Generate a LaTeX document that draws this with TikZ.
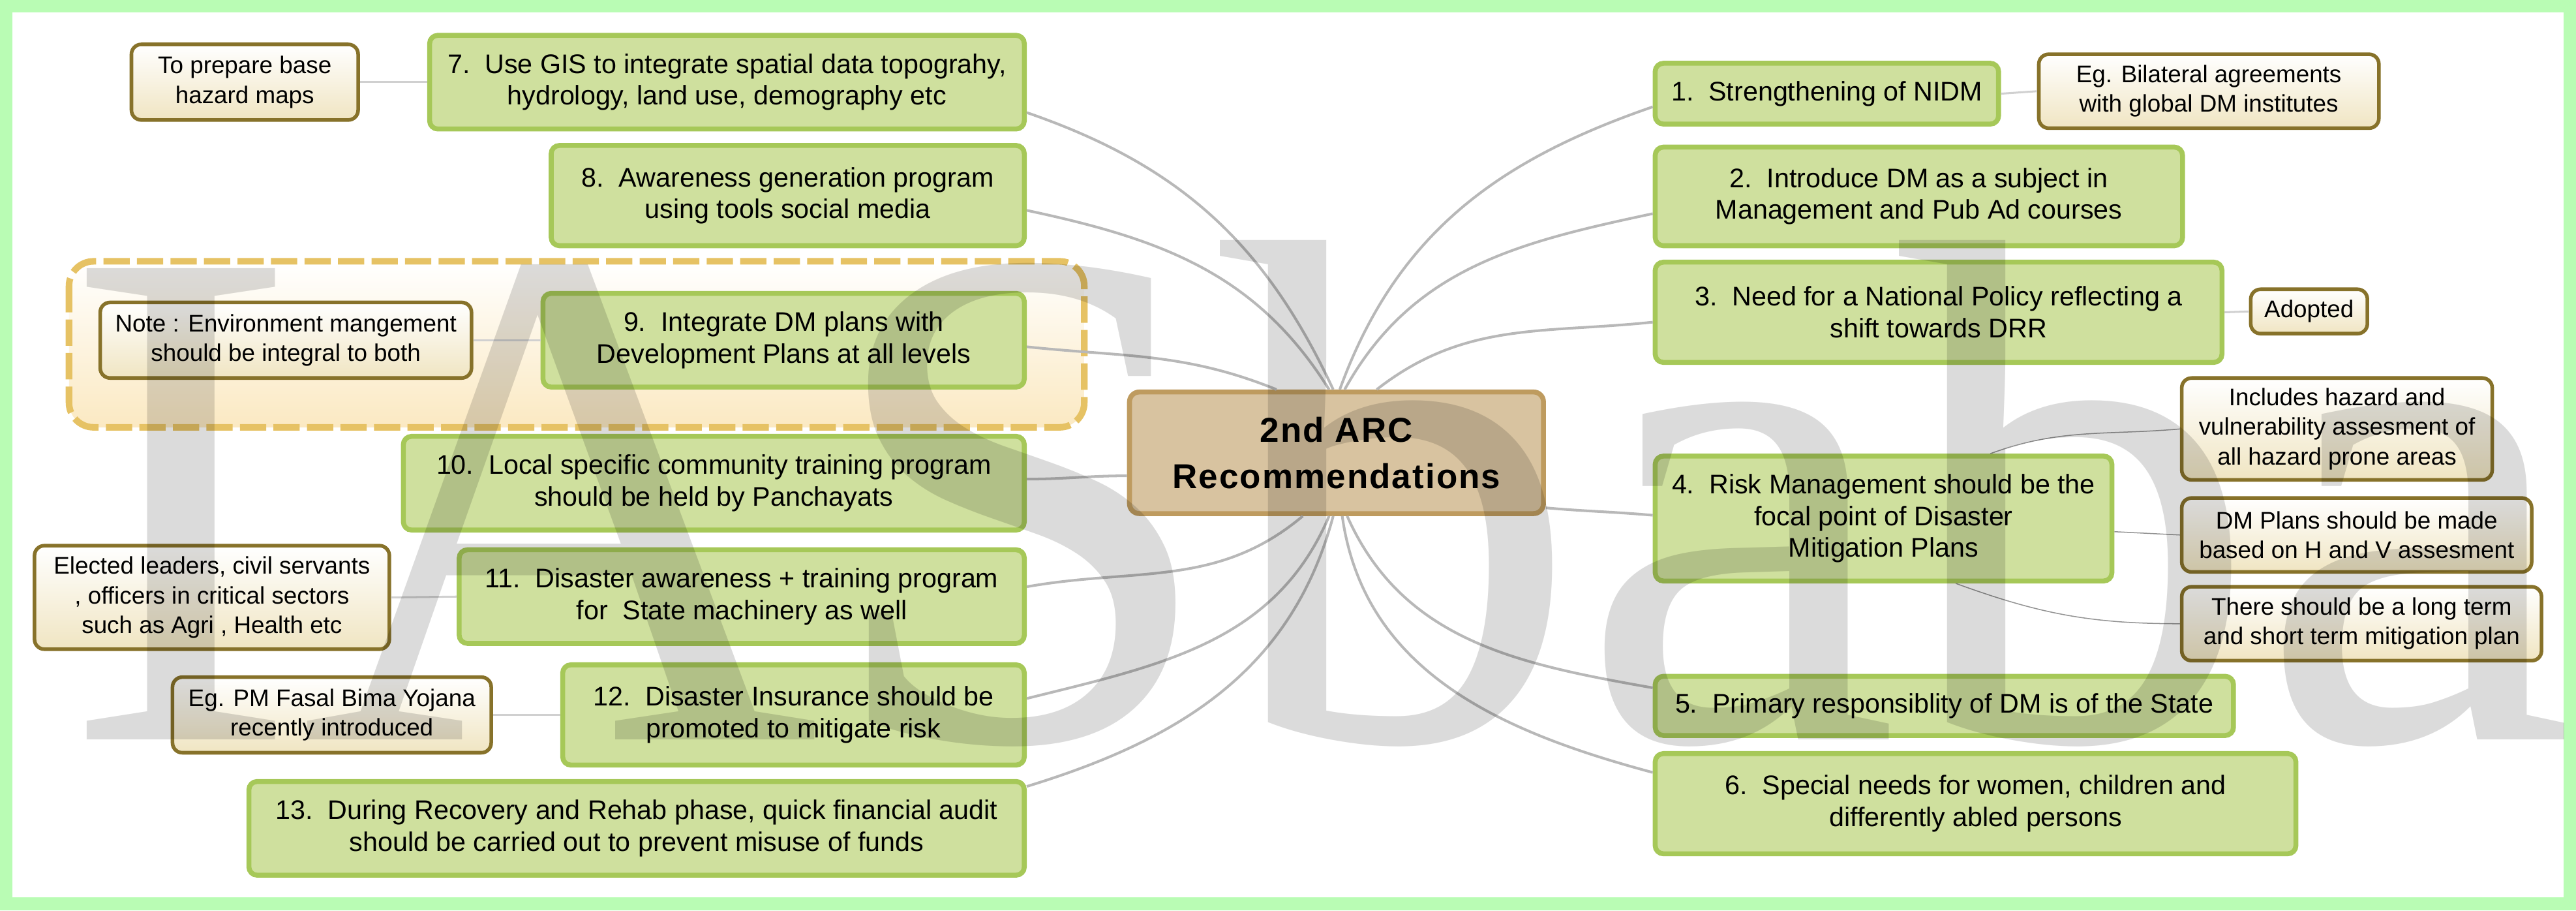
\documentclass[tikz,border=0pt]{standalone}
\usepackage{fontspec}
\setmainfont{Liberation Sans}
\newfontfamily\wmfont{Liberation Serif}
\newfontfamily\rootfont[LetterSpace=4]{Liberation Sans}
\usetikzlibrary{positioning, calc}

\definecolor{page green}{RGB}{185,252,180}
\definecolor{leaf fill}{RGB}{207,224,158}
\definecolor{leaf line}{RGB}{166,200,88}
\definecolor{note line}{RGB}{135,114,42}
\definecolor{note fill}{RGB}{240,229,194}
\definecolor{root fill}{RGB}{216,195,160}
\definecolor{root line}{RGB}{190,155,95}
\definecolor{gold dash}{RGB}{230,194,100}
\definecolor{group fill}{RGB}{251,233,194}
\definecolor{link grey}{RGB}{184,184,184}
\definecolor{twig grey}{RGB}{208,208,208}

\tikzset{
  leaf/.style={draw=leaf line, fill=leaf fill, line width=0.15cm, rounded corners=0.25cm, inner sep=0pt, font=\fontsize{23.3}{27.5}\selectfont},
  note/.style={draw=note line, top color=white, bottom color=note fill, line width=0.11cm, rounded corners=0.3cm, inner sep=0pt, font=\fontsize{20.8}{25.6}\selectfont},
  root/.style={draw=root line, fill=root fill, line width=0.15cm, rounded corners=0.3cm, inner sep=0pt, font=\rootfont\bfseries\fontsize{29.9}{39.8}\selectfont},
  group/.style={draw=gold dash, line width=0.2cm, dash pattern=on 0.8cm off 0.22cm, rounded corners=0.75cm, top color=white, bottom color=group fill},
  link/.style={draw=link grey, line width=0.08cm},
  twig/.style={draw=twig grey, line width=0.06cm},
  hair/.style={draw=link grey!80!black, line width=0.03cm},
}

\begin{document}
\begin{tikzpicture}[x=0.05cm, y=-0.05cm, every node/.style={align=center}]
\useasboundingbox (0,0) rectangle (1568,554);
\fill[page green] (0,0) rectangle (1568,554);
\fill[white] (7.5,7.5) rectangle (1560.5,546);
\draw[group] (42,159) rectangle (660,260);

\node[root, minimum width=12.6cm, minimum height=3.7cm] (arc) at (813.5,275.5) {2nd ARC\\Recommendations};

% left side
\node[leaf, minimum width=18.1cm, minimum height=2.85cm] (gis) at (442.5,50) {7.~~Use GIS to integrate spatial data topograhy,\\hydrology, land use, demography etc};
\node[leaf, minimum width=14.4cm, minimum height=3.05cm] (awareness) at (479.5,119) {8.~~Awareness generation program\\using tools social media};
\node[leaf, minimum width=14.65cm, minimum height=2.85cm] (dev plans) at (477,207) {9.~~Integrate DM plans with\\Development Plans at all levels};
\node[leaf, minimum width=18.9cm, minimum height=2.85cm] (panchayat) at (434.5,294) {10.~~Local specific community training program\\should be held by Panchayats};
\node[leaf, minimum width=17.2cm, minimum height=2.85cm] (machinery) at (451.5,363) {11.~~Disaster awareness + training program\\for~~State machinery as well};
\node[leaf, minimum width=14.05cm, minimum height=3.05cm] (insurance) at (483,435) {12.~~Disaster Insurance should be\\promoted to mitigate risk};
\node[leaf, minimum width=23.6cm, minimum height=2.85cm] (audit) at (387.5,504) {13.~~During Recovery and Rehab phase, quick financial audit\\should be carried out to prevent misuse of funds};

\node[note, minimum width=6.9cm, minimum height=2.3cm] (base maps) at (149,50) {To prepare base\\hazard maps};
\node[note, minimum width=11.3cm, minimum height=2.3cm] (env note) at (174,207) {Note : Environment mangement\\should be integral to both};
\node[note, minimum width=10.8cm, minimum height=3.15cm] (officials) at (129,363.5) {Elected leaders, civil servants\\, officers in critical sectors\\such as Agri , Health etc};
\node[note, minimum width=9.7cm, minimum height=2.3cm] (fasal) at (202,435) {Eg. PM Fasal Bima Yojana\\recently introduced};

% right side
\node[leaf, minimum width=10.45cm, minimum height=1.85cm] (nidm) at (1112,57) {1.~~Strengthening of NIDM};
\node[leaf, minimum width=16.05cm, minimum height=3.0cm] (courses) at (1168,119.5) {2.~~Introduce DM as a subject in\\Management and Pub Ad courses};
\node[leaf, minimum width=17.25cm, minimum height=3.05cm] (policy) at (1180,190) {3.~~Need for a National Policy reflecting a\\shift towards DRR};
\node[leaf, minimum width=13.9cm, minimum height=3.8cm] (risk) at (1146.5,315.5) {4.~~Risk Management should be the\\focal point of Disaster\\Mitigation Plans};
\node[leaf, minimum width=17.6cm, minimum height=1.8cm] (state) at (1183.5,429.5) {5.~~Primary responsiblity of DM is of the State};
\node[leaf, minimum width=19.5cm, minimum height=3.05cm] (special) at (1202.5,489) {6.~~Special needs for women, children and\\differently abled persons};

\node[note, minimum width=10.35cm, minimum height=2.25cm] (bilateral) at (1344.5,55.5) {Eg. Bilateral agreements\\with global DM institutes};
\node[note, minimum width=3.55cm, minimum height=1.35cm] (adopted) at (1405.5,189.5) {Adopted};
\node[note, minimum width=9.45cm, minimum height=3.1cm] (hv assessment) at (1422.5,261) {Includes hazard and\\vulnerability assesment of\\all hazard prone areas};
\node[note, minimum width=10.65cm, minimum height=2.25cm] (hv plans) at (1434.5,325.5) {DM Plans should be made\\based on H and V assesment};
\node[note, minimum width=10.95cm, minimum height=2.25cm] (mitigation) at (1437.5,379.5) {There should be a long term\\and short term mitigation plan};

% branches from the centre
\draw[link] ($(gis.east)+(0,18.5)$) to[out=-19, in=115] ($(arc.north)+(-2,0)$);
\draw[link] ($(awareness.east)+(0,9)$) to[out=-12, in=122] ($(arc.north)+(-4.5,0)$);
\draw[link] ($(dev plans.east)+(0,4)$) to[out=-6, in=158] ($(arc.north)+(-36.5,0)$);
\draw[link] ($(panchayat.east)+(0,-2.5)$) to[out=0, in=180] ($(arc.west)+(0,14)$);
\draw[link] ($(machinery.east)+(0,-6)$) to[out=10, in=-140] ($(arc.south)+(-20.5,0)$);
\draw[link] ($(insurance.east)+(0,-10)$) to[out=14, in=-113] ($(arc.south)+(-4.5,0)$);
\draw[link] ($(audit.east)+(0,-25.5)$) to[out=17, in=-105] ($(arc.south)+(-2,0)$);
\draw[link] ($(nidm.west)+(0,8)$) to[out=199, in=70] ($(arc.north)+(2,0)$);
\draw[link] ($(courses.west)+(0,10.5)$) to[out=192, in=61] ($(arc.north)+(5,0)$);
\draw[link] ($(policy.west)+(0,6)$) to[out=186, in=38] ($(arc.north)+(24.5,0)$);
\draw[link] ($(arc.east)+(0,33.5)$) to[out=-5, in=175] ($(risk.west)+(0,-2)$);
\draw[link] ($(state.west)+(0,-11)$) to[out=170, in=-66] ($(arc.south)+(6.5,0)$);
\draw[link] ($(special.west)+(0,-19)$) to[out=165, in=-82] ($(arc.south)+(3.5,0)$);

% notes
\draw[twig] (base maps.east) -- (gis.west);
\draw[twig] (env note.east) -- (dev plans.west);
\draw[twig] (officials.east) -- (machinery.west);
\draw[twig] (fasal.east) -- (insurance.west);
\draw[twig] (nidm.east) -- (bilateral.west);
\draw[twig] (policy.east) -- (adopted.west);
\draw[hair] ($(risk.north)+(65,0)$) to[out=20, in=185] (hv assessment.west);
\draw[hair] ($(risk.east)+(0,8)$) -- (hv plans.west);
\draw[hair] ($(risk.south)+(44,0)$) to[out=-20, in=180] (mitigation.west);

% watermark
\begin{scope}
\clip (7.5,7.5) rectangle (1560.5,546);
\node[anchor=base west, inner sep=0pt, text opacity=0.14, font=\wmfont\fontsize{623}{623}\selectfont] (logo) at (37,450) {IASbaba};
\end{scope}
\end{tikzpicture}
\end{document}
